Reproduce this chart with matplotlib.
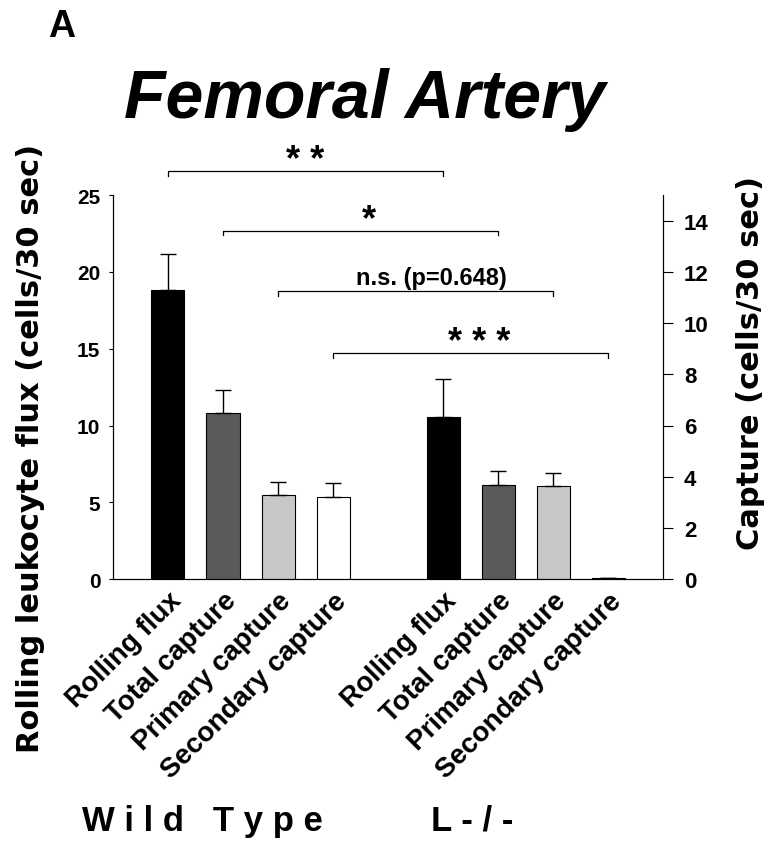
import matplotlib
matplotlib.use("Agg")
import matplotlib.pyplot as plt
import numpy as np

plt.rcParams['font.family'] = ['Liberation Sans', 'DejaVu Sans']
plt.rcParams['font.weight'] = 'bold'

# data
labels = ["Rolling flux", "Total capture", "Primary capture", "Secondary capture"]
groups = ["W i l d   T y p e", "L - / -"]
wt_flux, wt_flux_err = 18.8, 2.4             # cells/30 sec (left axis)
ko_flux, ko_flux_err = 10.55, 2.5
wt_capture = [6.5, 3.28, 3.2]                 # capture (right axis)
wt_capture_err = [0.9, 0.5, 0.55]
ko_capture = [3.67, 3.63, 0.04]
ko_capture_err = [0.55, 0.5, 0.0]
bar_colors = ["#000000", "#5a5a5a", "#c8c8c8", "#ffffff"]
sig_text = ["* *", "*", "n.s. (p=0.648)", "* * *"]
sig_y = [26.55, 22.7, 18.75, 14.7]  # bracket heights in left-axis units
sig_dx = [0.0, 0.15, 0.28, 0.15]

fig = plt.figure(figsize=(7.77, 8.53), dpi=100)
ax = fig.add_axes([0.1454, 0.320, 0.708, 0.450])
ax2 = ax.twinx()

wt_pos = np.arange(4)
ko_pos = np.arange(5, 9)
w = 0.6
ekw = dict(ecolor='black', lw=1, capsize=6, capthick=1)

ax.bar(wt_pos[0], wt_flux, w, color=bar_colors[0], edgecolor='black', lw=0.8,
       yerr=[[0], [wt_flux_err]], error_kw=ekw)
ax.bar(ko_pos[0], ko_flux, w, color=bar_colors[0], edgecolor='black', lw=0.8,
       yerr=[[0], [ko_flux_err]], error_kw=ekw)
ax2.bar(wt_pos[1:], wt_capture, w, color=bar_colors[1:], edgecolor='black', lw=0.8,
        yerr=[[0, 0, 0], wt_capture_err], error_kw=ekw)
ax2.bar(ko_pos[1:], ko_capture, w, color=bar_colors[1:], edgecolor='black', lw=0.8,
        yerr=[[0, 0, 0], ko_capture_err], error_kw=ekw)

ax.set_xlim(-1, 9)
ax.set_ylim(0, 25)
ax2.set_ylim(0, 15)
ax.set_yticks([0, 5, 10, 15, 20, 25])
ax2.set_yticks([0, 2, 4, 6, 8, 10, 12, 14])

for a in (ax, ax2):
    a.spines['top'].set_visible(False)
    for s in a.spines.values():
        s.set_linewidth(0.8)
ax.tick_params(axis='y', labelsize=15, length=3, width=0.8, pad=6)
ax2.tick_params(axis='y', labelsize=16, length=7, width=0.8, pad=8)
for a in (ax, ax2):
    for t in a.get_yticklabels():
        t.set_fontweight('bold')

ax.set_xticks(list(wt_pos) + list(ko_pos))
ax.set_xticklabels(labels + labels, rotation=45, ha='right', va='top',
                   rotation_mode='anchor', fontsize=20, fontweight='bold')
ax.tick_params(axis='x', length=0, pad=6)

ax.set_ylabel("Rolling leukocyte flux (cells/30 sec)", fontsize=22, fontweight='bold',
              fontfamily='DejaVu Sans')
ax2.set_ylabel("Capture (cells/30 sec)", fontsize=22, fontweight='bold',
               fontfamily='DejaVu Sans')
ax.yaxis.set_label_coords(-0.124, 0.344)
ax2.yaxis.set_label_coords(1.133, 0.565)

# significance brackets
for i in range(4):
    x0, x1, y = wt_pos[i], ko_pos[i], sig_y[i]
    ax.plot([x0, x0, x1, x1], [y - 0.3, y, y, y - 0.3], color='black', lw=0.9, clip_on=False)
    star = '*' in sig_text[i]
    ax.annotate(sig_text[i], xy=((x0 + x1) / 2 + sig_dx[i], y),
                xytext=(0, 1 if star else 5), textcoords='offset points',
                ha='center', va='baseline', fontsize=26 if star else 17, fontweight='bold',
                annotation_clip=False)

fig.text(0.47, 0.862, "Femoral Artery", ha='center', va='baseline', fontsize=49,
         fontweight='bold', fontstyle='italic')
fig.text(0.062, 0.957, "A", ha='left', va='baseline', fontsize=27, fontweight='bold')
fig.text(0.105, 0.026, groups[0], ha='left', va='baseline', fontsize=25, fontweight='bold')
fig.text(0.555, 0.026, groups[1], ha='left', va='baseline', fontsize=25, fontweight='bold')

fig.savefig("out.png", dpi=100)
